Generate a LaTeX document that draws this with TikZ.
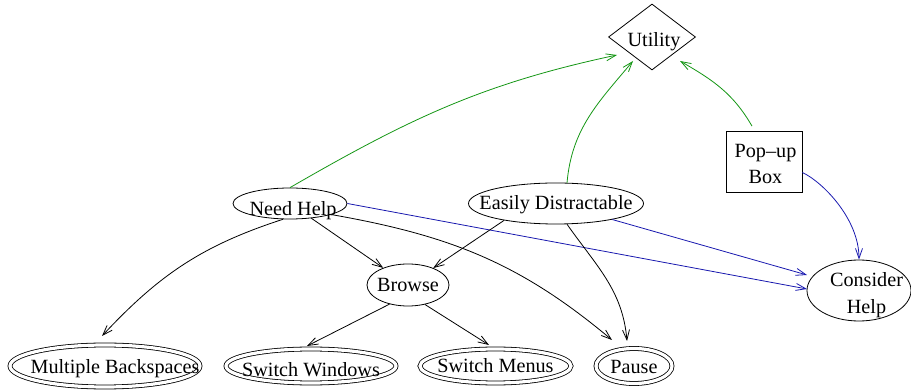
\documentclass[tikz,border=0pt]{standalone}
\usepackage{fontspec}
\setmainfont{Liberation Serif}
\usetikzlibrary{shapes.geometric,arrows.meta}
\definecolor{edgegreen}{RGB}{20,150,20}
\definecolor{edgeblue}{RGB}{25,25,175}
\begin{document}
\begin{tikzpicture}[x=1pt,y=1pt,
  every node/.style={font=\fontsize{20.2}{26.5}\selectfont},
  shapeline/.style={draw, line width=0.8pt, inner sep=0pt},
  oval/.style={shapeline, ellipse},
  final/.style={oval, double, double distance=3.2pt},
  tx/.style={text height=14pt, text depth=4.5pt, inner sep=0pt},
  link/.style={line width=0.8pt, -{Straight Barb[length=10pt,width=7pt]}},
  kedge/.style={link, black},
  gedge/.style={link, edgegreen},
  bedge/.style={link, edgeblue}]
\useasboundingbox (0,0) rectangle (911,391);

% nodes
\node[shapeline, diamond, minimum width=87pt, minimum height=66pt,
      label={[tx, xshift=2pt, yshift=-5pt]center:Utility}] (U) at (652,354) {};
\node[shapeline, rectangle, minimum width=76pt, minimum height=61pt,
      label={[align=center, xshift=1.5pt, yshift=-2.5pt]center:Pop–up\\Box}] (P) at (764,229.5) {};
\node[oval, minimum width=175pt, minimum height=41pt,
      label={[tx, yshift=-1.2pt]center:Easily Distractable}] (ED) at (556,187.5) {};
\node[oval, minimum width=104pt, minimum height=61pt,
      label={[align=center, xshift=7.5pt, yshift=-4.5pt]center:Consider\\Help}] (CH) at (859,100.5) {};
\node[oval, minimum width=114pt, minimum height=31pt,
      label={[tx, xshift=3pt, yshift=-6.8pt]center:Need Help}] (NH) at (290,187.5) {};
\node[oval, minimum width=82pt, minimum height=42pt,
      label={[tx, yshift=-2pt]center:Browse}] (BR) at (408,106) {};
\node[final, minimum width=190pt, minimum height=42pt,
      label={[tx, xshift=10pt, yshift=-2.3pt]center:Multiple Backspaces}] (MB) at (105,25) {};
\node[final, minimum width=170pt, minimum height=34pt,
      label={[tx, yshift=-5.5pt]center:Switch Windows}] (SW) at (311,25) {};
\node[final, minimum width=151pt, minimum height=34pt,
      label={[tx, yshift=-2pt]center:Switch Menus}] (SM) at (495.5,25) {};
\node[final, minimum width=76pt, minimum height=35pt,
      label={[tx, yshift=-2.3pt]center:Pause}] (PA) at (634,25) {};

% utility links
\draw[gedge] (NH.north) to[out=30,in=192] ([shift={(-35,-18)}]U.center);
\draw[gedge] (ED.62) to[out=85,in=230] ([shift={(-19,-24)}]U.center);
\draw[gedge] ([shift={(-12,4.5)}]P.north) to[out=120,in=-30] ([shift={(28,-24)}]U.center);

% links to Consider Help
\draw[bedge] ([yshift=-11]P.east) to[out=-25,in=90,out distance=22pt,in distance=41pt] (CH.north);
\draw[bedge] (NH.east) -- ([shift={(-52,1.5)}]CH.center);
\draw[bedge] (ED) -- ([shift={(-52,15.5)}]CH.center);

% behaviour links
\draw[kedge] (NH) -- (BR);
\draw[kedge] (ED.198) -- (BR);
\draw[kedge] (NH.-15) to[out=-10,in=140] ([shift={(-22,26)}]PA.center);
\draw[kedge] (ED.-62) to[out=-55,in=95] ([shift={(-7,25)}]PA.center);
\draw[kedge] (NH.-114) to[out=198,in=47] ([shift={(-3,30)}]MB.center);
\draw[kedge] (BR.-134) -- ([shift={(-4,20)}]SW.center);
\draw[kedge] (BR.-49) -- ([shift={(-6.5,21)}]SM.center);
\end{tikzpicture}
\end{document}
